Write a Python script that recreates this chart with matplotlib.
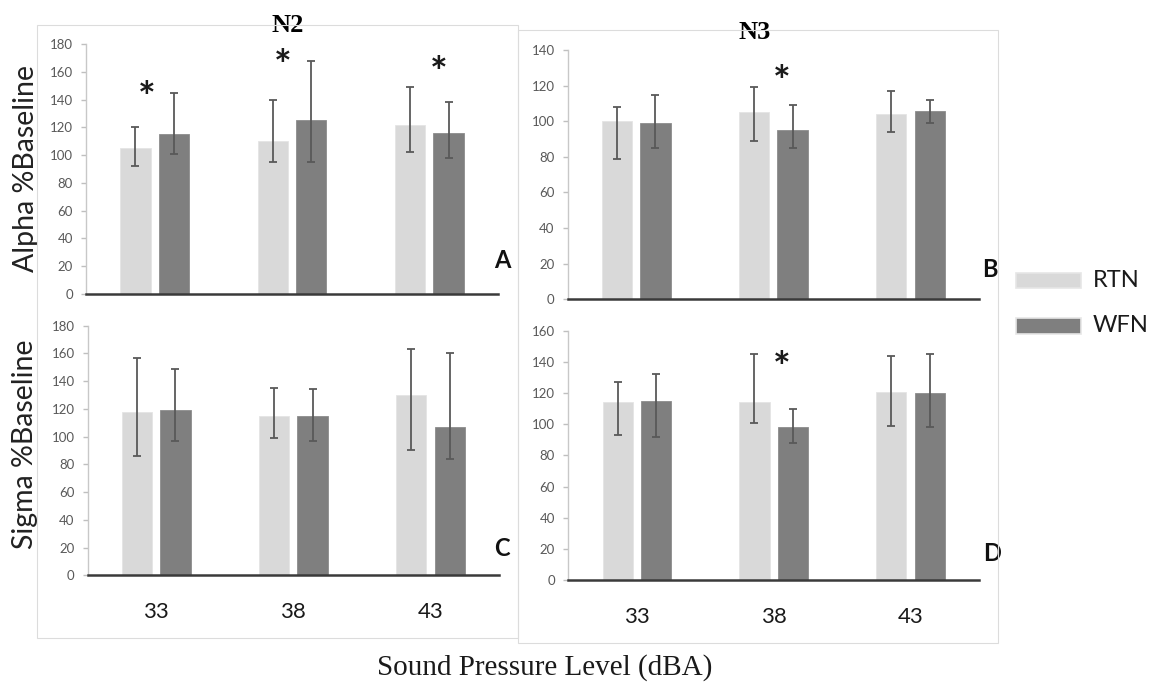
import matplotlib
matplotlib.use('Agg')
import matplotlib.pyplot as plt
from matplotlib.patches import Rectangle
import numpy as np

# Níveis de pressão sonora (dBA) e condições de ruído
niveis = ['33', '38', '43']
series = ['RTN', 'WFN']

# Alpha %Baseline - N2 (média, limite inferior e superior da barra de erro)
alfa_n2_rtn = [105, 110, 122]
alfa_n2_rtn_inf = [92, 95, 102]
alfa_n2_rtn_sup = [120, 140, 149]
alfa_n2_wfn = [115, 125, 116]
alfa_n2_wfn_inf = [101, 95, 98]
alfa_n2_wfn_sup = [145, 168, 138]

# Alpha %Baseline - N3
alfa_n3_rtn = [100, 105, 104]
alfa_n3_rtn_inf = [79, 89, 94]
alfa_n3_rtn_sup = [108, 119, 117]
alfa_n3_wfn = [99, 95, 106]
alfa_n3_wfn_inf = [85, 85, 99]
alfa_n3_wfn_sup = [115, 109, 112]

# Sigma %Baseline - N2
sigma_n2_rtn = [118, 115, 130]
sigma_n2_rtn_inf = [86, 99, 90]
sigma_n2_rtn_sup = [157, 135, 163]
sigma_n2_wfn = [119, 115, 107]
sigma_n2_wfn_inf = [97, 97, 84]
sigma_n2_wfn_sup = [149, 134, 160]

# Sigma %Baseline - N3
sigma_n3_rtn = [114, 114, 121]
sigma_n3_rtn_inf = [93, 101, 99]
sigma_n3_rtn_sup = [127, 145, 144]
sigma_n3_wfn = [115, 98, 120]
sigma_n3_wfn_inf = [92, 88, 98]
sigma_n3_wfn_sup = [132, 110, 145]

# Níveis com diferença significativa (índice do nível)
signif_alfa_n2 = [0, 1, 2]
signif_alfa_n3 = [1]
signif_sigma_n2 = []
signif_sigma_n3 = [1]

COR_RTN = '#d9d9d9'
COR_WFN = '#7f7f7f'
COR_ERRO = '#595959'
SANS = 'Lato'
SERIF = 'Liberation Serif'

W, H = 1158, 686


# Converte pixels (origem no topo) para coordenadas da figura
def px(x, y):
    return x / W, 1 - y / H


def caixa(x0, y0, x1, y1):
    fx0, fy1 = px(x0, y0)
    fx1, fy0 = px(x1, y1)
    return [fx0, fy0, fx1 - fx0, fy1 - fy0]


# Função para desenhar um painel de barras com barras de erro
def desenhar_painel(ax, rtn, rtn_inf, rtn_sup, wfn, wfn_inf, wfn_sup,
                    ymax, passo, signif, ast_pos, letra, letra_pos,
                    mostrar_x):
    x = np.arange(len(niveis))
    largura = 0.22
    desloc = 0.14

    rtn = np.array(rtn)
    wfn = np.array(wfn)
    erro_rtn = [rtn - np.array(rtn_inf), np.array(rtn_sup) - rtn]
    erro_wfn = [wfn - np.array(wfn_inf), np.array(wfn_sup) - wfn]

    ax.bar(x - desloc, rtn, largura, color=COR_RTN, edgecolor='#e4e4e4',
           linewidth=0.6, zorder=2)
    ax.bar(x + desloc, wfn, largura, color=COR_WFN, edgecolor='#8c8c8c',
           linewidth=0.6, zorder=2)
    ax.errorbar(x - desloc, rtn, yerr=erro_rtn, fmt='none', ecolor=COR_ERRO,
                elinewidth=1.3, capsize=2.8, capthick=1.3, zorder=3)
    ax.errorbar(x + desloc, wfn, yerr=erro_wfn, fmt='none', ecolor=COR_ERRO,
                elinewidth=1.3, capsize=2.8, capthick=1.3, zorder=3)

    # Asteriscos de significância
    for i in signif:
        dx, ya = ast_pos[i]
        ax.text(i + dx, ya, '*', ha='center', va='center', fontsize=30,
                fontweight='bold', family=SANS, color='#1a1a1a')

    ax.set_xlim(-0.5, len(niveis) - 0.5)
    ax.set_ylim(0, ymax)
    ax.set_yticks(np.arange(0, ymax + 1, passo))
    ax.tick_params(axis='y', colors='#bfbfbf', labelcolor='#595959',
                   labelsize=9.5, length=3.5, width=1, pad=6)
    for t in ax.get_yticklabels():
        t.set_family(SANS)

    ax.set_xticks(x)
    if mostrar_x:
        ax.set_xticklabels(niveis, fontsize=16, family=SANS, color='#1a1a1a')
        ax.tick_params(axis='x', length=0, pad=19)
    else:
        ax.set_xticklabels([])
        ax.tick_params(axis='x', length=0)

    ax.spines['top'].set_visible(False)
    ax.spines['right'].set_visible(False)
    ax.spines['left'].set_color('#c8c8c8')
    ax.spines['left'].set_linewidth(1)
    ax.spines['bottom'].set_color('#3a3a3a')
    ax.spines['bottom'].set_linewidth(1.8)
    ax.spines['bottom'].set_zorder(4)

    ax.text(letra_pos[0], letra_pos[1], letra, transform=ax.transAxes,
            ha='center', va='center', fontsize=17, fontweight='bold',
            family=SANS, color='#111111')


def criar_grafico():
    fig = plt.figure(figsize=(W / 100, H / 100), dpi=100)

    # Molduras dos gráficos
    for (x0, y0, x1, y1) in [(37, 25, 518, 638), (518, 30, 998, 643)]:
        fx, fy = px(x0, y1)
        fig.patches.append(Rectangle((fx, fy), (x1 - x0) / W, (y1 - y0) / H,
                                     transform=fig.transFigure, fill=False,
                                     edgecolor='#dcdcdc', linewidth=0.8))

    ax_a = fig.add_axes(caixa(86, 44, 498, 294))
    ax_b = fig.add_axes(caixa(567.7, 50, 979, 299.3))
    ax_c = fig.add_axes(caixa(87.7, 325.7, 499, 575.3))
    ax_d = fig.add_axes(caixa(568.3, 330.7, 979, 580.3))

    desenhar_painel(ax_a, alfa_n2_rtn, alfa_n2_rtn_inf, alfa_n2_rtn_sup,
                    alfa_n2_wfn, alfa_n2_wfn_inf, alfa_n2_wfn_sup,
                    180, 20, signif_alfa_n2,
                    {0: (-0.06, 140), 1: (-0.066, 163), 2: (0.066, 158)},
                    'A', (1.01, 0.136), False)
    desenhar_painel(ax_b, alfa_n3_rtn, alfa_n3_rtn_inf, alfa_n3_rtn_sup,
                    alfa_n3_wfn, alfa_n3_wfn_inf, alfa_n3_wfn_sup,
                    140, 20, signif_alfa_n3, {1: (0.06, 121)},
                    'B', (1.027, 0.118), False)
    desenhar_painel(ax_c, sigma_n2_rtn, sigma_n2_rtn_inf, sigma_n2_rtn_sup,
                    sigma_n2_wfn, sigma_n2_wfn_inf, sigma_n2_wfn_sup,
                    180, 20, signif_sigma_n2, {},
                    'C', (1.007, 0.109), True)
    desenhar_painel(ax_d, sigma_n3_rtn, sigma_n3_rtn_inf, sigma_n3_rtn_sup,
                    sigma_n3_wfn, sigma_n3_wfn_inf, sigma_n3_wfn_sup,
                    160, 20, signif_sigma_n3, {1: (0.06, 135)},
                    'D', (1.032, 0.109), True)

    # Títulos dos estágios de sono
    ax_a.set_title('N2', x=0.49, pad=8.5, fontsize=19, fontweight='bold',
                   family=SERIF)
    ax_b.set_title('N3', x=0.455, pad=8, fontsize=19, fontweight='bold',
                   family=SERIF)

    # Rótulos do eixo y
    ax_a.set_ylabel('Alpha %Baseline', fontsize=20.5, family=SANS,
                    color='#222222')
    ax_a.yaxis.set_label_coords(-0.115, 0.5)
    ax_c.set_ylabel('Sigma %Baseline', fontsize=20.5, family=SANS,
                    color='#222222')
    ax_c.yaxis.set_label_coords(-0.121, 0.526)

    # Legenda
    cores = [COR_RTN, COR_WFN]
    topos = [272.7, 318]
    for nome, cor, topo in zip(series, cores, topos):
        fx, fy = px(1016, topo + 15.5)
        fig.patches.append(Rectangle((fx, fy), 65 / W, 15.5 / H,
                                     transform=fig.transFigure,
                                     facecolor=cor, edgecolor='#e6e6e6',
                                     linewidth=1.2))
        tx, ty = px(1093, topo + 7.5)
        fig.text(tx, ty, nome, ha='left', va='center', fontsize=17,
                 family=SANS, color='#1a1a1a')

    # Rótulo do eixo x comum
    cx, cy = px(545, 668)
    fig.text(cx, cy, 'Sound Pressure Level (dBA)', ha='center',
             va='center', fontsize=21, family=SERIF, color='#1a1a1a')

    fig.savefig('out.png', dpi=100)


def main():
    criar_grafico()


if __name__ == "__main__":
    main()
